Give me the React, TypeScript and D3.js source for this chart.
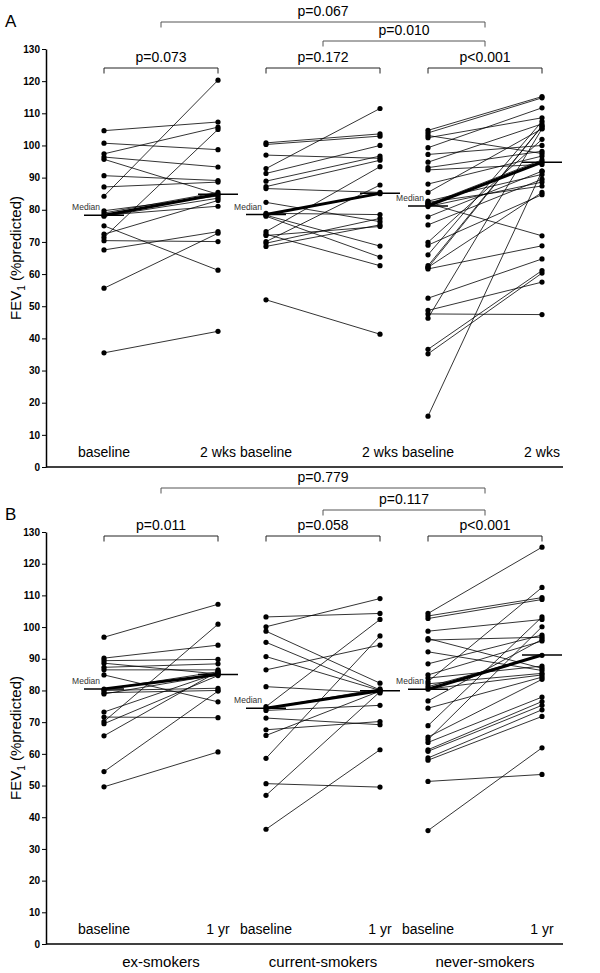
import { useEffect, useRef } from "react";
import * as d3 from "d3";

// groups and y ticks
const categories = ["ex-smokers", "current-smokers", "never-smokers"];
const yTicks = [0, 10, 20, 30, 40, 50, 60, 70, 80, 90, 100, 110, 120, 130];

// panel A: baseline -> 2 wks (FEV1 %predicted, one entry per patient)
const exBaseA = [104.6, 100.7, 97.4, 96.4, 95.7, 90.6, 87.1, 84.2, 79.7, 79.0, 78.3, 78.0, 75.0, 72.4, 71.4, 70.4, 67.5, 55.6, 35.5];
const exWk2A = [107.3, 98.7, 105.7, 93.3, 84.8, 89.1, 88.6, 120.3, 84.3, 85.4, 81.1, 83.6, 61.2, 82.9, 105.0, 70.1, 73.2, 72.7, 42.2];
const curBaseA = [100.8, 100.3, 97.0, 92.8, 91.3, 88.9, 87.2, 86.6, 82.3, 78.9, 78.3, 78.0, 73.2, 72.4, 70.1, 69.6, 68.6, 52.0, 78.5, 72.0];
const curWk2A = [103.6, 102.9, 96.0, 111.5, 100.0, 96.7, 95.4, 85.4, 76.3, 78.5, 68.7, 65.3, 93.4, 62.6, 87.7, 77.3, 75.3, 41.3, 85.0, 74.8];
const nevBaseA = [104.7, 103.9, 103.1, 102.4, 99.3, 97.2, 94.8, 93.1, 92.4, 88.0, 85.4, 82.7, 82.3, 81.7, 81.0, 81.5, 82.0, 77.8, 75.3, 69.9, 69.0, 66.0, 62.6, 62.1, 61.6, 62.0, 52.5, 48.7, 47.6, 46.3, 36.6, 35.2, 15.8];
const nevWk2A = [115.2, 114.8, 97.5, 108.6, 111.7, 100.0, 106.7, 98.2, 94.1, 96.7, 105.2, 91.0, 87.4, 95.5, 88.6, 94.8, 71.9, 92.0, 89.5, 101.9, 84.7, 107.5, 106.0, 85.4, 68.8, 106.0, 64.7, 57.5, 47.4, 105.2, 61.1, 60.3, 92.0];
const medianBaseA = [78.3, 78.5, 81.2];
const medianFollowA = [84.8, 85.1, 94.8];
const pGroupsA = ["p=0.073", "p=0.172", "p<0.001"];
const pAcrossA = ["p=0.067", "p=0.010"];

// panel B: baseline -> 1 yr
const exBaseB = [96.8, 90.2, 89.4, 88.6, 87.3, 86.5, 84.9, 80.4, 80.0, 79.3, 78.9, 73.2, 71.6, 70.2, 69.5, 65.7, 54.4, 49.6];
const exYrB = [107.2, 94.3, 89.8, 85.2, 88.4, 86.5, 76.4, 85.9, 80.7, 80.0, 85.0, 85.5, 71.4, 100.9, 84.7, 86.0, 79.8, 60.6];
const curBaseB = [103.2, 100.1, 98.7, 95.2, 90.7, 86.5, 81.2, 74.9, 74.4, 73.7, 71.3, 67.6, 65.8, 58.6, 50.6, 46.9, 36.2];
const curYrB = [104.3, 109.0, 82.3, 80.2, 80.0, 94.3, 79.2, 102.4, 80.5, 75.3, 69.2, 70.2, 79.8, 97.2, 49.5, 79.6, 61.3];
const nevBaseB = [104.3, 103.5, 102.7, 98.7, 96.4, 95.9, 92.2, 88.4, 84.9, 83.9, 82.8, 82.1, 81.2, 80.4, 76.7, 74.4, 68.9, 65.3, 64.5, 63.6, 61.3, 60.8, 58.7, 58.0, 51.3, 35.8];
const nevYrB = [125.2, 109.3, 108.7, 102.4, 87.0, 96.8, 86.3, 97.5, 95.6, 87.7, 112.5, 85.4, 91.1, 84.9, 96.1, 84.2, 103.2, 83.5, 100.1, 77.9, 76.5, 75.3, 73.9, 71.8, 53.5, 61.9];
const medianBaseB = [80.5, 74.4, 80.4];
const medianFollowB = [85.0, 79.9, 91.2];
const pGroupsB = ["p=0.011", "p=0.058", "p<0.001"];
const pAcrossB = ["p=0.779", "p=0.117"];

const FONT = "Arial, 'Liberation Sans', sans-serif";

const panels = [
  {
    letter: "A", letterY: 27, top: 49, bottom: 467, follow: "2 wks",
    base: [exBaseA, curBaseA, nevBaseA], after: [exWk2A, curWk2A, nevWk2A],
    medBase: medianBaseA, medAfter: medianFollowA, pGroups: pGroupsA, pAcross: pAcrossA,
    bracketY: [22, 41, 68]
  },
  {
    letter: "B", letterY: 520, top: 532, bottom: 944, follow: "1 yr",
    base: [exBaseB, curBaseB, nevBaseB], after: [exYrB, curYrB, nevYrB],
    medBase: medianBaseB, medAfter: medianFollowB, pGroups: pGroupsB, pAcross: pAcrossB,
    bracketY: [488, 510, 536]
  }
];

export default function App() {
  const ref = useRef<SVGSVGElement>(null);

  useEffect(() => {
    const svg = d3.select(ref.current);
    svg.selectAll("*").remove();

    const axisX = 46;
    const x = d3.scaleBand().domain(categories).range([80, 566]).padding(0);
    const inner = d3.scalePoint().domain(["base", "after"]).range([-57, 57]);
    const center = (c: string) => (x(c) as number) + x.bandwidth() / 2;
    const colX = (c: string, k: string) => center(c) + (inner(k) as number);

    panels.forEach((p) => {
      const y = d3.scaleLinear().domain([0, 130]).range([p.bottom, p.top]);
      const g = svg.append("g");

      // panel letter
      g.append("text").attr("x", 5).attr("y", p.letterY)
        .style("font", `17px ${FONT}`).text(p.letter);

      // y axis
      const ax = g.append("g").attr("transform", `translate(${axisX},0)`)
        .call(d3.axisLeft(y).tickValues(yTicks).tickSize(4).tickSizeOuter(0).tickPadding(2));
      ax.select(".domain").attr("stroke-width", 1.5);
      ax.selectAll("text").style("font", `bold 10px ${FONT}`).attr("fill", "#000");

      // x axis line
      g.append("line").attr("x1", axisX).attr("x2", 563)
        .attr("y1", y(0)).attr("y2", y(0)).attr("stroke", "#000").attr("stroke-width", 1.5);

      // y title
      const t = g.append("text")
        .attr("transform", `translate(21,${(p.top + p.bottom) / 2}) rotate(-90)`)
        .attr("text-anchor", "middle").style("font", `15px ${FONT}`);
      t.append("tspan").text("FEV");
      t.append("tspan").attr("dy", 4).style("font-size", "10px").text("1");
      t.append("tspan").attr("dy", -4).text(" (%predicted)");

      // brackets across groups
      const bracket = (x1: number, x2: number, by: number, label: string, color: string) => {
        g.append("path")
          .attr("d", `M${x1},${by + 5.5}V${by}H${x2}V${by + 5.5}`)
          .attr("fill", "none").attr("stroke", color).attr("stroke-width", 1);
        g.append("text").attr("x", (x1 + x2) / 2).attr("y", by - 6)
          .attr("text-anchor", "middle").style("font", `14px ${FONT}`).text(label);
      };
      bracket(center(categories[0]), center(categories[2]), p.bracketY[0], p.pAcross[0], "#555");
      bracket(center(categories[1]), center(categories[2]), p.bracketY[1], p.pAcross[1], "#555");
      categories.forEach((c, i) => {
        bracket(colX(c, "base"), colX(c, "after"), p.bracketY[2], p.pGroups[i], "#222");
      });

      categories.forEach((c, i) => {
        const x0 = colX(c, "base");
        const x1 = colX(c, "after");
        const pairs = p.base[i].map((v, j) => ({ b: v, a: p.after[i][j] }));

        // time labels
        g.append("text").attr("x", x0).attr("y", y(0) - 10).attr("text-anchor", "middle")
          .style("font", `14px ${FONT}`).text("baseline");
        g.append("text").attr("x", x1).attr("y", y(0) - 10).attr("text-anchor", "middle")
          .style("font", `14px ${FONT}`).text(p.follow);

        // patient lines
        g.selectAll(null).data(pairs).join("line")
          .attr("x1", x0).attr("x2", x1)
          .attr("y1", (d) => y(d.b)).attr("y2", (d) => y(d.a))
          .attr("stroke", "#000").attr("stroke-width", 0.8);

        // medians
        const mb = p.medBase[i];
        const ma = p.medAfter[i];
        g.append("line").attr("x1", x0 - 20).attr("x2", x0 + 20)
          .attr("y1", y(mb)).attr("y2", y(mb)).attr("stroke", "#000").attr("stroke-width", 1.5);
        g.append("line").attr("x1", x1 - 20).attr("x2", x1 + 20)
          .attr("y1", y(ma)).attr("y2", y(ma)).attr("stroke", "#000").attr("stroke-width", 1.5);
        g.append("line").attr("x1", x0).attr("x2", x1)
          .attr("y1", y(mb)).attr("y2", y(ma)).attr("stroke", "#000").attr("stroke-width", 3);
        g.append("text").attr("x", x0 - 4).attr("y", y(mb) - 5).attr("text-anchor", "end")
          .style("font", `8.5px ${FONT}`).attr("fill", "#333").text("Median");

        // dots
        g.selectAll(null).data(pairs).join("circle")
          .attr("cx", x0).attr("cy", (d) => y(d.b)).attr("r", 2.6).attr("fill", "#000");
        g.selectAll(null).data(pairs).join("circle")
          .attr("cx", x1).attr("cy", (d) => y(d.a)).attr("r", 2.6).attr("fill", "#000");

        if (p.letter === "B") {
          svg.append("text").attr("x", center(c)).attr("y", 967).attr("text-anchor", "middle")
            .style("font", `15px ${FONT}`).text(c);
        }
      });
    });
  }, []);

  return (
    <svg ref={ref} width={600} height={973}
      style={{ position: "absolute", left: 0, top: 0, background: "#fff" }} />
  );
}
